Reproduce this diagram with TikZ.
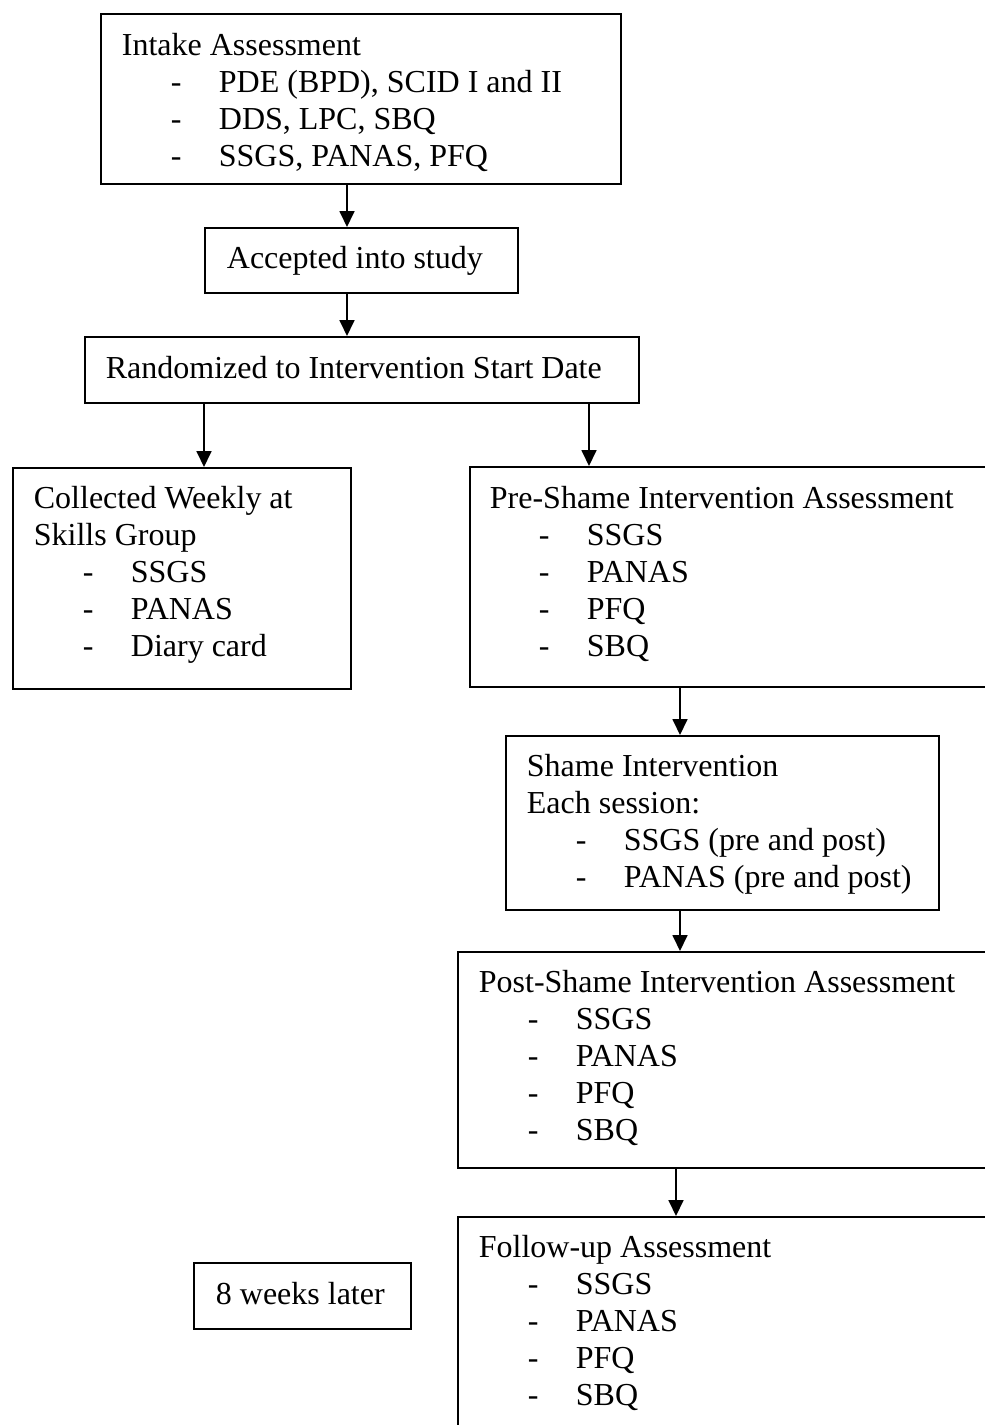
\documentclass[tikz,border=0pt]{standalone}
\usepackage{fontspec}
\setmainfont{Liberation Serif}
\usetikzlibrary{arrows.meta}
\newcommand{\itm}[1]{\hspace*{24.5pt}\makebox[24pt][l]{-}#1}
\newcommand{\boxtext}[4]{\begin{minipage}[t][#2][t]{#1}\rule{0pt}{#3}#4\end{minipage}}
\tikzset{
  box/.style={draw, line width=0.9pt, anchor=north west, inner xsep=10.5pt, inner ysep=0pt,
    font=\fontsize{16pt}{18.4pt}\selectfont},
  arr/.style={line width=0.9pt, -{Triangle[length=8pt,width=7.5pt]}}
}
\begin{document}
\begin{tikzpicture}[x=0.5pt,y=-0.5pt]
\fill[white] (0,0) rectangle (985,1425);
\useasboundingbox (0,0) rectangle (985,1425);
\clip (0,0) rectangle (985,1425);
\node[box] (intake) at (100,13) {\boxtext{239pt}{85pt}{21pt}{Intake Assessment\\
\itm{PDE (BPD), SCID I and II}\\
\itm{DDS, LPC, SBQ}\\
\itm{SSGS, PANAS, PFQ}}};
\node[box, inner xsep=11pt] (accepted) at (204,227) {\boxtext{134.5pt}{32.5pt}{20.5pt}{Accepted into study}};
\node[box] (random) at (84,336) {\boxtext{256pt}{33pt}{21pt}{Randomized to Intervention Start Date}};
\node[box] (collected) at (12,467) {\boxtext{148pt}{110.5pt}{20.5pt}{Collected Weekly at\\
Skills Group\\
\itm{SSGS}\\
\itm{PANAS}\\
\itm{Diary card}}};
\node[box, inner xsep=10pt] (pre) at (469,466) {\boxtext{290pt}{110pt}{21pt}{Pre-Shame Intervention Assessment\\
\itm{SSGS}\\
\itm{PANAS}\\
\itm{PFQ}\\
\itm{SBQ}}};
\node[box] (shame) at (505,735) {\boxtext{195.5pt}{87pt}{20.5pt}{Shame Intervention\\
Each session:\\
\itm{SSGS (pre and post)}\\
\itm{PANAS (pre and post)}}};
\node[box] (post) at (457,951) {\boxtext{290pt}{108pt}{20.5pt}{Post-Shame Intervention Assessment\\
\itm{SSGS}\\
\itm{PANAS}\\
\itm{PFQ}\\
\itm{SBQ}}};
\node[box] (follow) at (457,1216) {\boxtext{290pt}{150pt}{20.5pt}{Follow-up Assessment\\
\itm{SSGS}\\
\itm{PANAS}\\
\itm{PFQ}\\
\itm{SBQ}}};
\node[box, inner xsep=11pt] (weeks) at (193,1262) {\boxtext{86.5pt}{33pt}{21pt}{8 weeks later}};
\draw[arr] (intake.south -| 347,0) -- (accepted.north -| 347,0);
\draw[arr] (accepted.south -| 347,0) -- (random.north -| 347,0);
\draw[arr] (random.south -| 204,0) -- (collected.north -| 204,0);
\draw[arr] (random.south -| 589,0) -- (pre.north -| 589,0);
\draw[arr] (pre.south -| 680,0) -- (shame.north -| 680,0);
\draw[arr] (shame.south -| 680,0) -- (post.north -| 680,0);
\draw[arr] (post.south -| 676,0) -- (follow.north -| 676,0);
\end{tikzpicture}
\end{document}
